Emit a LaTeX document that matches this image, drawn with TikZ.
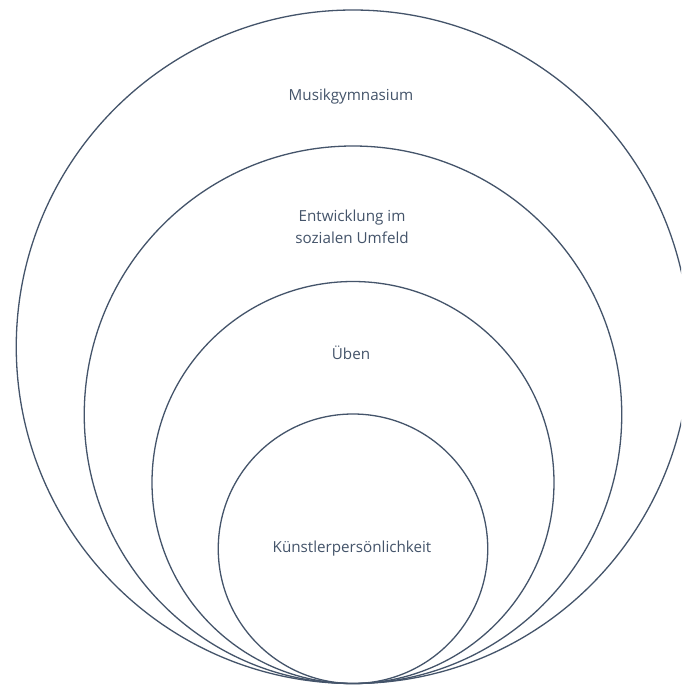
\documentclass[tikz,border=0pt]{standalone}
\usepackage{fontspec}
\setmainfont{Open Sans}
\definecolor{linec}{HTML}{44546A}
\definecolor{textc}{HTML}{44546A}
\begin{document}
\begin{tikzpicture}[x=1pt,y=-1pt,
  ring/.style={draw=linec, line width=1.3pt},
  lbl/.style={text=textc, font=\fontsize{15.2}{22.5}\selectfont, align=center, inner sep=0pt}]
\useasboundingbox (0,0) rectangle (681,686);
\clip (0,0) rectangle (681,686);
\fill[white] (0,0) rectangle (681,686);
\node[ring, circle, minimum size=673.5pt, inner sep=0pt] (c1) at (353,346.75) {};
\node[ring, circle, minimum size=537.5pt, inner sep=0pt] (c2) at (353,414.75) {};
\node[ring, circle, minimum size=402pt, inner sep=0pt] (c3) at (353,482.5) {};
\node[ring, circle, minimum size=269.5pt, inner sep=0pt] (c4) at (353,548.75) {};
\node[lbl] (t1) at (351,97) {Musikgymnasium};
\node[lbl] (t2) at (352,227) {Entwicklung im\\sozialen Umfeld};
\node[lbl] (t3) at (351,353) {Üben};
\node[lbl] (t4) at (352,549) {Künstlerpersönlichkeit};
\end{tikzpicture}
\end{document}
